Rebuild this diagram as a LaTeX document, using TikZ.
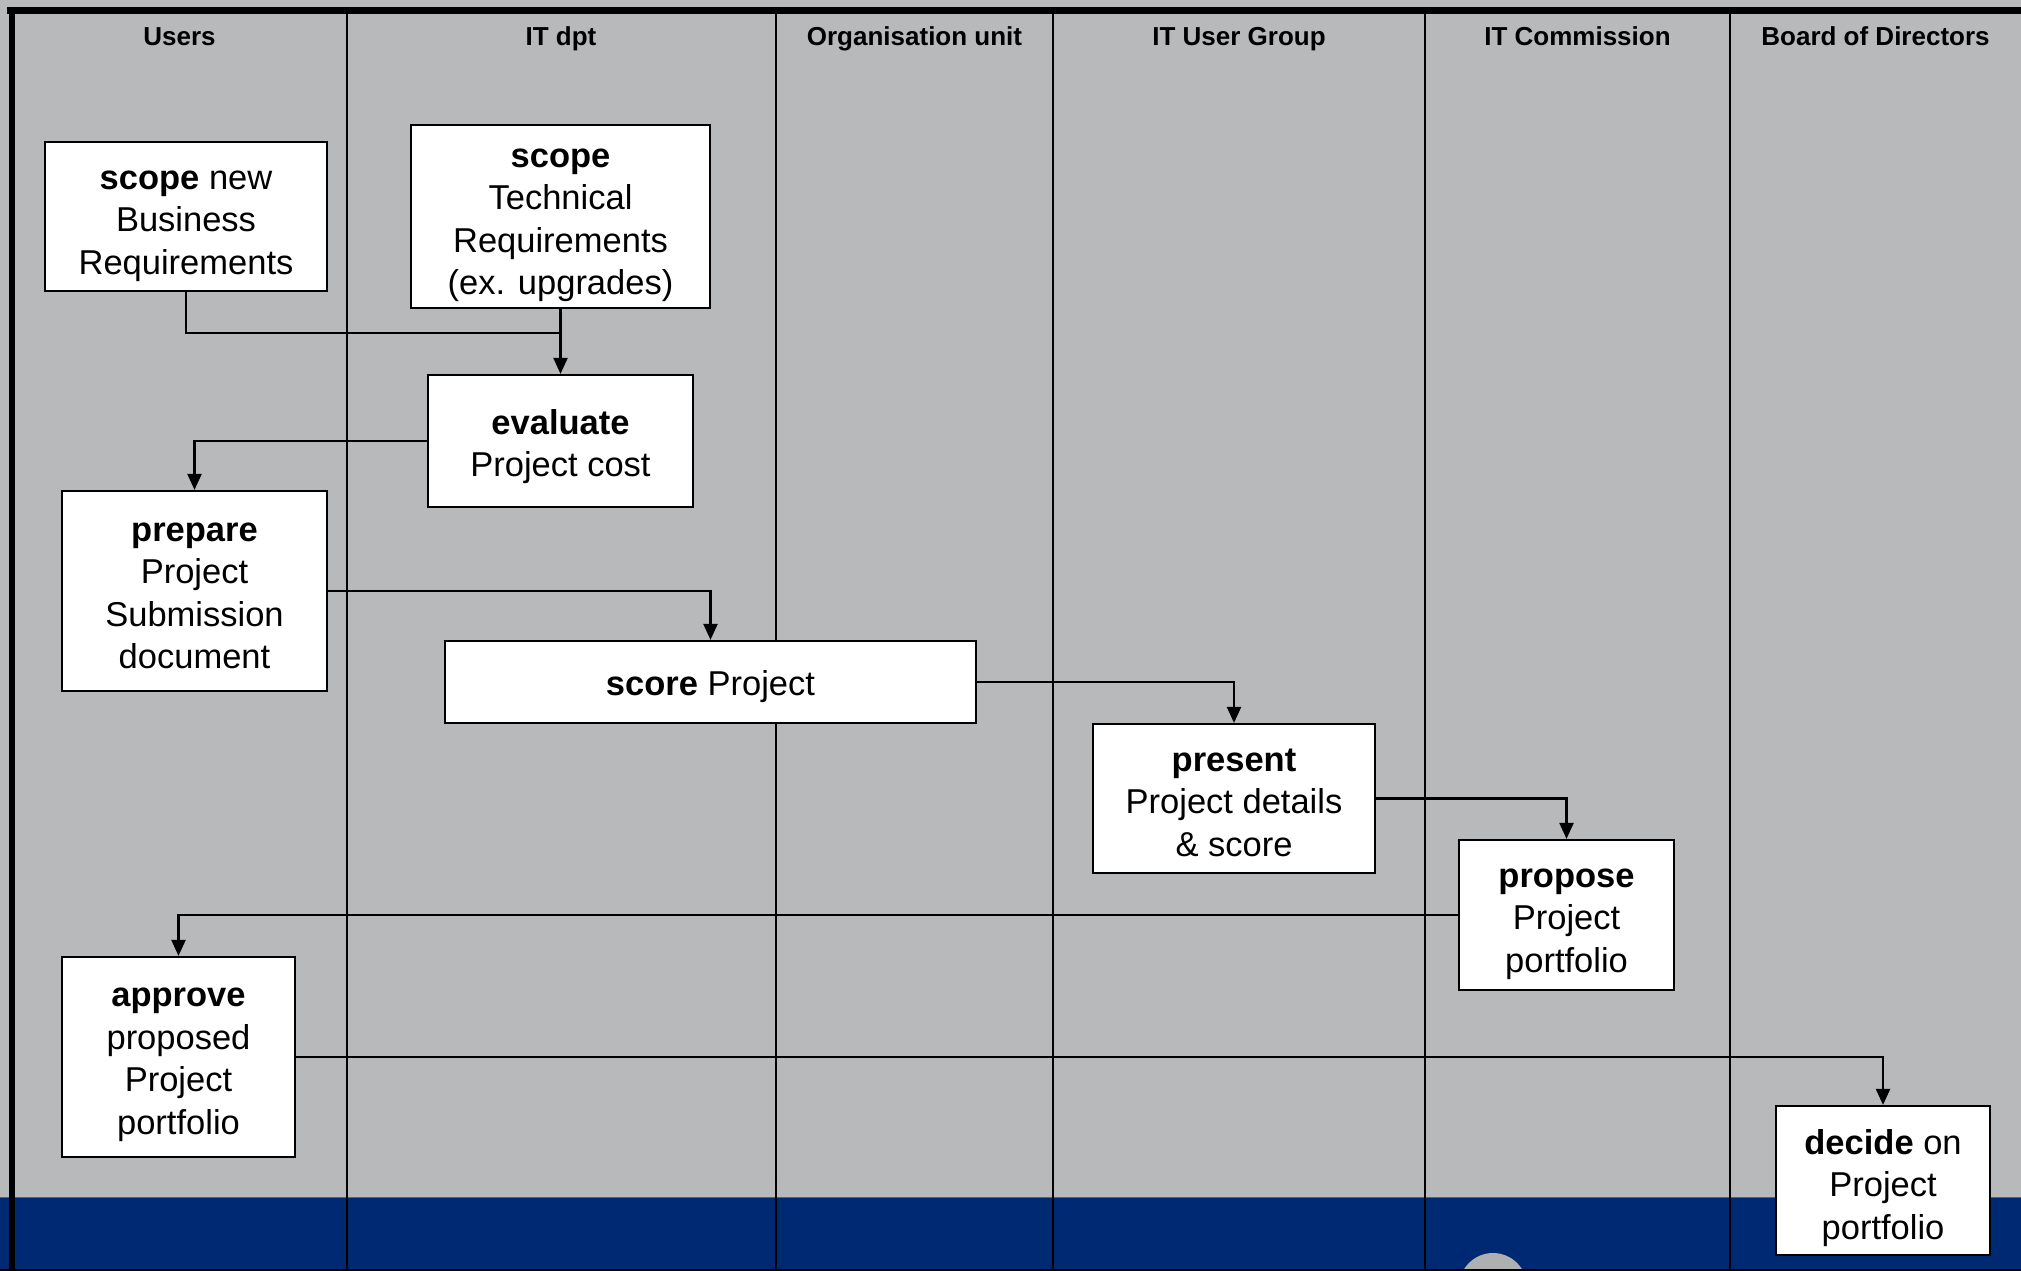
\documentclass[tikz,border=0pt]{standalone}
\usepackage{fontspec}
\setmainfont{Liberation Sans}
\usetikzlibrary{arrows.meta}
\definecolor{bggrey}{RGB}{184,185,187}
\definecolor{bandblue}{RGB}{0,41,115}
\definecolor{bandline}{RGB}{70,100,150}
\definecolor{blobgrey}{RGB}{175,176,178}
\tikzset{
  procbox/.style={draw=black, line width=2.2pt, fill=white, inner sep=0pt, align=center,
    text depth=0pt, font=\fontsize{34.5}{42.5}\selectfont},
  lanehead/.style={anchor=base, inner sep=0pt, font=\fontsize{26}{30}\selectfont\bfseries},
  laneline/.style={line width=2.6pt, draw=black},
  flow/.style={line width=2.2pt, draw=black, -{Triangle[length=16pt,width=14pt]}},
  flowplain/.style={line width=2.2pt, draw=black}
}
\begin{document}
\begin{tikzpicture}[x=1pt,y=-1pt]
\useasboundingbox (0,0) rectangle (2021,1271);
% background
\fill[bggrey] (0,0) rectangle (2021,1271);
\fill[bandblue] (0,1197) rectangle (2021,1271);
\draw[bandline, line width=1.5pt] (0,1197.5) -- (2021,1197.5);
\begin{scope}
  \clip (0,0) rectangle (2021,1271);
  \fill[blobgrey] (1493,1287) circle (34);
\end{scope}
% lane frame
\draw[line width=7pt] (7,11) -- (2021,11);
\draw[line width=6pt] (12,8) -- (12,1271);
\foreach \xx in {347,776,1053,1425,1730} {
  \draw[laneline] (\xx,11) -- (\xx,1271);
}
\draw[line width=1.5pt] (0,1270.2) -- (2021,1270.2);
% headers
\node[lanehead] (h1) at (179.5,46) {Users};
\node[lanehead] (h2) at (561,46) {IT dpt};
\node[lanehead] (h3) at (914.5,46) {Organisation unit};
\node[lanehead] (h4) at (1239,46) {IT User Group};
\node[lanehead] (h5) at (1577.5,46) {IT Commission};
\node[lanehead] (h6) at (1875.5,46) {Board of Directors};
% boxes
\node[procbox, minimum width=282pt, minimum height=149pt, text height=115pt] (scopeBR) at (186,216.5)
  {\textbf{scope} new\\Business\\Requirements};
\node[procbox, minimum width=299pt, minimum height=183pt, text height=156pt] (scopeTR) at (560.5,216.5)
  {\textbf{scope}\\Technical\\Requirements\\(ex. upgrades)};
\node[procbox, minimum width=265pt, minimum height=132pt, text height=71pt] (evaluate) at (560.5,441)
  {\textbf{evaluate}\\Project cost};
\node[procbox, minimum width=265pt, minimum height=200pt, text height=155.4pt] (prepare) at (194.5,591)
  {\textbf{prepare}\\Project\\Submission\\document};
\node[procbox, minimum width=531pt, minimum height=82pt, text height=27pt] (score) at (710.5,682)
  {\textbf{score} Project};
\node[procbox, minimum width=282pt, minimum height=149pt, text height=115pt] (present) at (1234,798.5)
  {\textbf{present}\\Project details\\\& score};
\node[procbox, minimum width=215pt, minimum height=150pt, text height=114pt] (propose) at (1566.5,915)
  {\textbf{propose}\\Project\\portfolio};
\node[procbox, minimum width=233pt, minimum height=200pt, text height=154pt] (approve) at (178.5,1057)
  {\textbf{approve}\\proposed\\Project\\portfolio};
\node[procbox, minimum width=214pt, minimum height=149pt, text height=117pt] (decide) at (1883,1180.5)
  {\textbf{decide} on\\Project\\portfolio};
% connectors
\coordinate (j1) at (scopeTR.south |- 0,333);
\draw[flowplain] (scopeBR.south) |- (j1);
\draw[flow] (scopeTR.south) -- (evaluate.north);
\draw[flow] (evaluate.west) -| (prepare.north);
\draw[flow] (prepare.east) -| (score.north);
\draw[flow] (score.east) -| (present.north);
\draw[flow] (present.east) -| (propose.north);
\draw[flow] (propose.west) -| (approve.north);
\draw[flow] (approve.east) -| (decide.north);
\end{tikzpicture}
\end{document}
